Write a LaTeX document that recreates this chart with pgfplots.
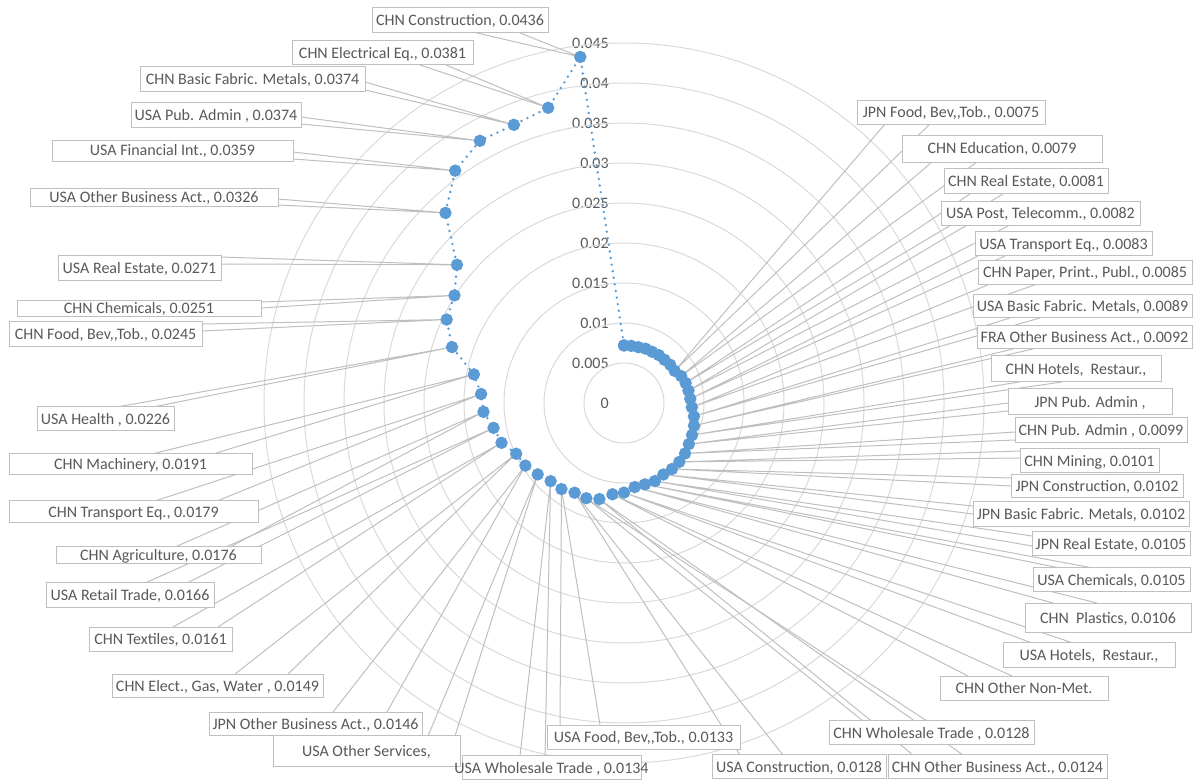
\documentclass[border=0pt]{standalone}
\usepackage{fontspec}
\setmainfont{Carlito}
\usepackage{pgfplots}
\usepackage{pgfplotstable}
\pgfplotsset{compat=1.18}

\definecolor{ser}{HTML}{5B9BD5}
\definecolor{txt}{HTML}{595959}
\definecolor{grd}{HTML}{D9D9D9}
\definecolor{ldr}{HTML}{BFBFBF}

% category index k (clockwise from top, 50 spokes) and value
\pgfplotstableread{
k v
0 0.0072
1 0.0072
2 0.0072
3 0.0073
4 0.0073
5 0.0074
6 0.0074
7 0.0075
8 0.0075
9 0.0079
10 0.0081
11 0.0082
12 0.0083
13 0.0085
14 0.0089
15 0.0092
16 0.0094
17 0.0096
18 0.0099
19 0.0101
20 0.0102
21 0.0102
22 0.0105
23 0.0105
24 0.0106
25 0.0112
26 0.0115
27 0.0124
28 0.0128
29 0.0128
30 0.0133
31 0.0134
32 0.0140
33 0.0146
34 0.0149
35 0.0161
36 0.0166
37 0.0176
38 0.0179
39 0.0191
40 0.0226
41 0.0245
42 0.0251
43 0.0271
44 0.0326
45 0.0359
46 0.0374
47 0.0374
48 0.0381
49 0.0436
50 0.0072
}\radar

% picture pixel -> axis coordinates (centre at 624,403; 8000 px per unit)
\newcommand\px[2]{(axis cs:{((#1)-624)/8000},{(403-(#2))/8000})}
% data point of spoke k with value v
\newcommand\dat[2]{(axis cs:{(#2)*sin(7.2*(#1))},{(#2)*cos(7.2*(#1))})}
% callout pointer: base a, base b, spoke, value
\newcommand\lw[6]{\draw[ldr,line width=0.75pt] \px{#1}{#2} -- \dat{#5}{#6} -- \px{#3}{#4};}
% callout box: x1 y1 x2 y2 text
\newcommand\lb[5]{\draw[ldr,line width=0.75pt,fill=white] \px{#1}{#2} rectangle \px{#3}{#4};
  \node[text=txt,inner sep=0pt,text height=7.7pt,text depth=0pt,font=\fontsize{12}{14}\selectfont]
    at \px{((#1)+(#3))/2}{((#2)+(#4))/2} {#5};}
\newcommand\cc{,\kern0pt,}

\begin{document}
\begin{tikzpicture}
\begin{axis}[
  scale only axis, width=898.5pt, height=585pt,
  xmin=-0.078, xmax=0.07175, ymin=-0.047125, ymax=0.050375,
  axis x line=none, axis y line=middle,
  y axis line style={draw=none},
  major tick length=0pt,
  ytick={0,0.005,0.01,0.015,0.02,0.025,0.03,0.035,0.04,0.045},
  scaled y ticks=false,
  yticklabel style={/pgf/number format/fixed,/pgf/number format/precision=3,
    /pgf/number format/assume math mode=true,
    font=\fontsize{12}{14}\selectfont, text=txt, anchor=east, xshift=-8pt},
  clip=false,
]
\coordinate (bbsw) at (rel axis cs:0,0);
\coordinate (bbne) at (rel axis cs:1,1);
\pgfplotsinvokeforeach{0.005,0.01,0.015,0.02,0.025,0.03,0.035,0.04,0.045}{
  \draw[grd,line width=0.75pt] (axis cs:0,0) circle[radius=#1];
}
\addplot[ser, line width=2pt, line cap=round, dash pattern=on 0pt off 5pt,
  mark=*, mark size=3.6pt, mark options={solid, fill=ser, draw=ser}]
  table[x expr={\thisrow{v}*sin(7.2*\thisrow{k})}, y expr={\thisrow{v}*cos(7.2*\thisrow{k})}] {\radar};

% pointers
\lw{477}{33}{520}{33}{49}{0.0436}
\lw{420}{65}{446}{65}{48}{0.0381}
\lw{365}{82}{365}{90}{47}{0.0374}
\lw{301}{117}{301}{124}{46}{0.0374}
\lw{293}{152}{293}{159}{45}{0.0359}
\lw{278}{199}{278}{205}{44}{0.0326}
\lw{221}{257}{221}{264}{43}{0.0271}
\lw{261}{302}{261}{308}{42}{0.0251}
\lw{202}{324}{202}{331}{41}{0.0245}
\lw{117}{407}{153}{407}{40}{0.0226}
\lw{152}{454}{213}{454}{39}{0.0191}
\lw{155}{501}{217}{501}{38}{0.0179}
\lw{175}{547}{230}{547}{37}{0.0176}
\lw{145}{583}{187}{583}{36}{0.0166}
\lw{173}{627}{218}{627}{35}{0.0161}
\lw{235}{674}{288}{674}{34}{0.0149}
\lw{333}{712}{387}{712}{33}{0.0146}
\lw{428}{736}{455}{736}{32}{0.0140}
\lw{520}{756}{545}{756}{31}{0.0134}
\lw{560}{725}{600}{725}{30}{0.0133}
\lw{740}{755}{783}{755}{29}{0.0128}
\lw{863}{721}{927}{721}{28}{0.0128}
\lw{913}{755}{963}{755}{27}{0.0124}
\lw{968}{676}{1012}{676}{26}{0.0115}
\lw{1032}{643}{1073}{643}{25}{0.0112}
\lw{1053}{603}{1097}{603}{24}{0.0106}
\lw{1060}{568}{1093}{568}{23}{0.0105}
\lw{1032}{536}{1032}{546}{22}{0.0105}
\lw{973}{506}{973}{514}{21}{0.0102}
\lw{1011}{478}{1011}{486}{20}{0.0102}
\lw{1020}{451}{1020}{458}{19}{0.0101}
\lw{1015}{432}{1015}{440}{18}{0.0099}
\lw{1008}{403}{1008}{411}{17}{0.0096}
\lw{1019}{382}{1062}{382}{16}{0.0094}
\lw{1013}{349}{1033}{349}{15}{0.0092}
\lw{1010}{318}{1040}{318}{14}{0.0089}
\lw{990}{284}{1037}{284}{13}{0.0085}
\lw{978}{256}{1005}{256}{12}{0.0083}
\lw{967}{225}{1010}{225}{11}{0.0082}
\lw{970}{194}{1003}{194}{10}{0.0081}
\lw{932}{162}{977}{162}{9}{0.0079}
\lw{885}{124}{930}{124}{8}{0.0075}

% boxes
\lb{372}{8}{548}{33}{CHN Construction, 0.0436}
\lb{292}{41}{473}{65}{CHN Electrical Eq., 0.0381}
\lb{140}{67}{365}{92}{CHN Basic Fabric. Metals, 0.0374}
\lb{131}{103}{301}{128}{USA Pub. Admin , 0.0374}
\lb{52}{140}{293}{161}{USA Financial Int., 0.0359}
\lb{30}{188}{278}{207}{USA Other Business Act., 0.0326}
\lb{58}{256}{221}{281}{USA Real Estate, 0.0271}
\lb{17}{300}{261}{317}{CHN Chemicals, 0.0251}
\lb{9}{322}{202}{347}{CHN Food, Bev\cc Tob., 0.0245}
\lb{37}{407}{174}{431}{USA Health , 0.0226}
\lb{9}{454}{252}{475}{CHN Machinery, 0.0191}
\lb{9}{501}{258}{523}{CHN Transport Eq., 0.0179}
\lb{56}{547}{261}{564}{CHN Agriculture, 0.0176}
\lb{46}{583}{214}{608}{USA Retail Trade, 0.0166}
\lb{89}{627}{232}{651}{CHN Textiles, 0.0161}
\lb{112}{674}{323}{698}{CHN Elect., Gas, Water , 0.0149}
\lb{273}{736}{460}{767}{USA Other Services,}
\lb{209}{712}{422}{736}{JPN Other Business Act., 0.0146}
\lb{462}{756}{641}{780}{USA Wholesale Trade , 0.0134}
\lb{547}{725}{740}{749}{USA Food, Bev\cc Tob., 0.0133}
\lb{712}{755}{886}{779}{USA Construction, 0.0128}
\lb{829}{721}{1034}{745}{CHN Wholesale Trade , 0.0128}
\lb{888}{755}{1107}{779}{CHN Other Business Act., 0.0124}
\lb{940}{676}{1108}{700}{CHN Other Non-Met.}
\lb{1003}{643}{1175}{668}{USA Hotels,\ \ Restaur.,}
\lb{1025}{603}{1191}{633}{CHN\ \ Plastics, 0.0106}
\lb{1033}{568}{1190}{592}{USA Chemicals, 0.0105}
\lb{1032}{532}{1190}{556}{JPN Real Estate, 0.0105}
\lb{973}{502}{1189}{527}{JPN Basic Fabric. Metals, 0.0102}
\lb{1011}{475}{1183}{498}{JPN Construction, 0.0102}
\lb{1020}{449}{1159}{473}{CHN Mining, 0.0101}
\lb{1015}{418}{1187}{443}{CHN Pub. Admin , 0.0099}
\lb{1008}{389}{1172}{415}{JPN Pub. Admin ,}
\lb{991}{356}{1161}{382}{CHN Hotels,\ \ Restaur.,}
\lb{977}{326}{1192}{349}{FRA Other Business Act., 0.0092}
\lb{973}{295}{1192}{318}{USA Basic Fabric. Metals, 0.0089}
\lb{978}{260}{1192}{284}{CHN Paper, Print., Publ., 0.0085}
\lb{975}{232}{1152}{256}{USA Transport Eq., 0.0083}
\lb{941}{201}{1140}{225}{USA Post, Telecomm., 0.0082}
\lb{944}{169}{1108}{194}{CHN Real Estate, 0.0081}
\lb{902}{135}{1102}{162}{CHN Education, 0.0079}
\lb{857}{100}{1045}{124}{JPN Food, Bev\cc Tob., 0.0075}
\end{axis}
\pgfresetboundingbox
\path (bbsw) rectangle (bbne);
\end{tikzpicture}
\end{document}
